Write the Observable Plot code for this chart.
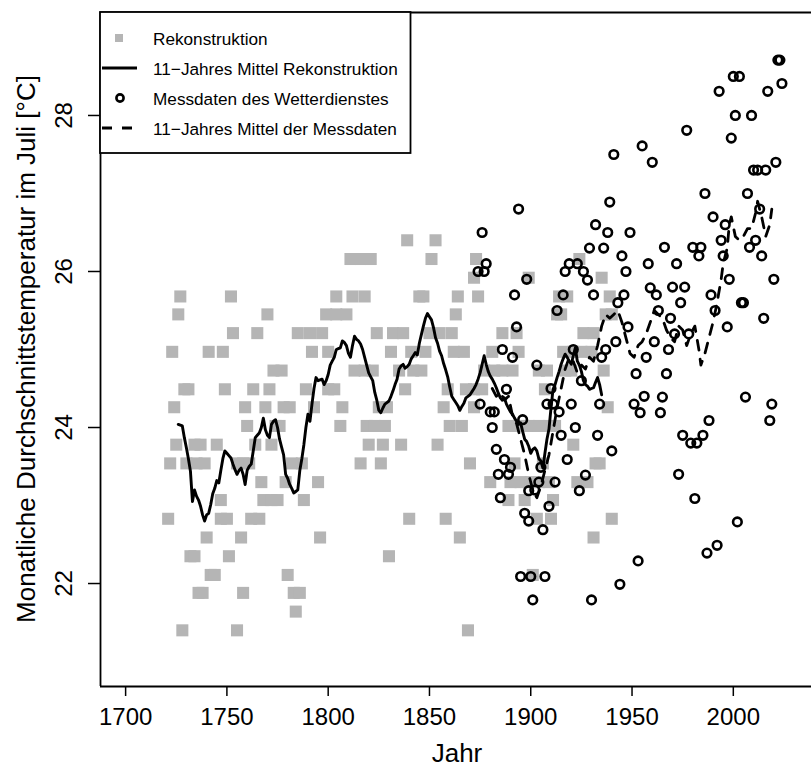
<!DOCTYPE html>
<html><head><meta charset="utf-8">
<script src="https://cdn.jsdelivr.net/npm/d3@7"></script>
<script src="https://cdn.jsdelivr.net/npm/@observablehq/plot@0.6"></script>
<style>
html,body{margin:0;padding:0;background:#fff;overflow:hidden;}
#chart{position:relative;width:811px;height:769px;}
</style></head><body><div id="chart"></div>
<script>
// ---- Rekonstruktion (grey squares): temperature levels and the years at each level
const rekoStufen = [26.40, 26.16, 25.92, 25.68, 25.45, 25.21, 24.97, 24.73, 24.49, 24.26, 24.02, 23.78, 23.54, 23.30, 23.07, 22.83, 22.59, 22.35, 22.11, 21.88, 21.64, 21.40];
const rekoJahre = [
 [1839, 1853],
 [1811, 1816, 1821, 1851, 1873, 1924],
 [1872, 1899, 1935],
 [1727, 1752, 1804, 1812, 1818, 1845, 1847, 1864, 1874, 1914, 1918, 1939],
 [1726, 1770, 1799, 1804, 1809, 1863, 1913, 1915, 1937, 1940],
 [1753, 1765, 1785, 1791, 1797, 1824, 1832, 1837, 1850, 1855, 1861, 1886, 1893, 1926, 1931],
 [1723, 1741, 1748, 1792, 1800, 1831, 1841, 1848, 1862, 1867, 1881, 1894, 1916, 1921, 1925, 1930],
 [1773, 1777, 1813, 1818, 1822, 1835, 1842, 1846, 1877, 1882, 1886, 1891, 1904, 1908, 1917, 1920, 1936],
 [1729, 1731, 1749, 1763, 1771, 1789, 1800, 1803, 1838, 1859, 1868, 1872, 1876, 1907],
 [1724, 1759, 1769, 1778, 1781, 1793, 1807, 1825, 1829, 1857, 1872, 1938],
 [1760, 1774, 1776, 1806, 1819, 1823, 1828, 1860, 1866, 1889, 1894, 1899, 1904, 1909, 1912],
 [1725, 1734, 1737, 1745, 1764, 1772, 1820, 1827, 1836, 1854, 1921],
 [1722, 1730, 1735, 1739, 1755, 1758, 1761, 1782, 1787, 1816, 1826, 1870, 1892, 1906, 1932, 1934],
 [1767, 1779, 1795, 1880, 1890, 1895, 1900, 1904, 1909, 1923, 1928],
 [1747, 1768, 1772, 1775, 1788, 1889, 1897, 1911],
 [1721, 1747, 1750, 1762, 1766, 1840, 1858, 1903, 1910, 1940],
 [1740, 1757, 1796, 1865, 1931],
 [1732, 1734, 1751, 1830],
 [1742, 1744, 1780, 1901],
 [1736, 1738, 1758, 1783, 1786],
 [1784],
 [1728, 1755, 1869]
];

// ---- 11-Jahres Mittel Rekonstruktion (solid line)
const rekoMittelJahr = [1726,1728,1729,1730,1731,1732,1733,1734,1735,1736,1737,1738,1739,1740,1741,1742,1743,1744,1745,1746,1747,1748,1749,1750,1751,1752,1753,1754,1755,1756,1757,1758,1759,1760,1761,1762,1763,1764,1765,1766,1767,1768,1769,1770,1771,1772,1773,1774,1775,1776,1777,1778,1779,1780,1781,1782,1783,1784,1785,1786,1787,1788,1789,1790,1791,1792,1793,1794,1795,1796,1797,1798,1799,1800,1801,1802,1803,1804,1805,1806,1807,1808,1809,1810,1811,1812,1813,1814,1815,1816,1817,1818,1819,1820,1821,1822,1823,1824,1825,1826,1827,1828,1829,1830,1831,1832,1833,1834,1835,1836,1837,1838,1839,1840,1841,1842,1843,1844,1845,1846,1847,1848,1849,1850,1851,1852,1853,1854,1855,1856,1857,1858,1859,1860,1861,1862,1863,1864,1865,1866,1867,1868,1869,1870,1871,1872,1873,1874,1875,1876,1877,1878,1879,1880,1881,1882,1883,1884,1885,1886,1887,1888,1889,1890,1891,1892,1893,1894,1895,1896,1897,1898,1899,1900,1901,1902,1903,1904,1905,1906,1907,1908,1909,1910,1911,1912,1913,1914,1915,1916,1917,1918,1919,1920,1921,1922,1923,1924,1925,1926,1927,1928,1929,1930,1931,1932,1933,1934,1935];
const rekoMittelTemp = [24.04,24.02,23.87,23.74,23.60,23.44,23.05,23.20,23.12,23.07,22.99,22.88,22.80,22.88,22.90,23.01,23.15,23.22,23.32,23.29,23.45,23.60,23.70,23.67,23.64,23.61,23.53,23.46,23.40,23.45,23.48,23.40,23.27,23.45,23.50,23.53,23.70,23.87,23.90,23.93,24.00,24.12,23.97,23.90,23.87,24.04,24.08,24.10,24.00,23.85,23.75,23.65,23.40,23.35,23.27,23.22,23.16,23.18,23.20,23.45,23.60,23.78,24.00,24.17,24.08,24.30,24.50,24.64,24.60,24.61,24.62,24.55,24.60,24.68,24.80,24.85,24.90,25.00,25.01,25.02,25.11,25.09,25.05,24.95,24.90,25.05,25.17,25.13,25.11,25.07,25.00,24.90,24.80,24.70,24.65,24.60,24.45,24.35,24.22,24.19,24.25,24.30,24.32,24.34,24.40,24.47,24.55,24.62,24.75,24.79,24.81,24.76,24.78,24.81,24.88,24.92,24.96,24.93,25.08,25.19,25.30,25.40,25.46,25.42,25.38,25.28,25.15,25.08,24.98,24.92,24.82,24.74,24.65,24.52,24.40,24.36,24.32,24.28,24.22,24.27,24.31,24.38,24.40,24.42,24.46,24.50,24.55,24.62,24.70,24.81,24.92,24.81,24.72,24.66,24.62,24.57,24.51,24.44,24.38,24.35,24.38,24.30,24.25,24.20,24.17,24.12,24.08,24.04,24.06,23.95,23.85,23.82,23.76,23.67,23.72,23.74,23.70,23.60,23.57,23.48,23.67,23.85,23.98,24.25,24.49,24.55,24.64,24.72,24.81,24.88,24.94,24.90,24.85,24.81,24.92,25.02,24.85,24.80,24.72,24.60,24.55,24.53,24.49,24.50,24.51,24.58,24.64,24.55,24.42];

// ---- Messdaten des Wetterdienstes (open circles)
const messJahr = [1874,1875,1876,1877,1878,1880,1881,1882,1883,1884,1885,1886,1887,1888,1889,1890,1891,1892,1893,1894,1895,1896,1897,1898,1899,1899,1900,1901,1902,1903,1904,1905,1906,1907,1908,1909,1910,1911,1912,1913,1914,1915,1916,1917,1918,1919,1920,1921,1922,1923,1924,1925,1926,1927,1928,1929,1930,1931,1932,1933,1934,1935,1936,1937,1938,1939,1940,1941,1942,1943,1944,1945,1946,1947,1948,1949,1951,1952,1953,1954,1955,1956,1957,1958,1959,1960,1961,1962,1963,1964,1965,1966,1967,1968,1969,1970,1971,1972,1973,1974,1975,1976,1977,1978,1979,1980,1981,1982,1983,1984,1985,1986,1987,1988,1989,1990,1991,1992,1993,1994,1995,1996,1997,1998,1999,2000,2001,2002,2003,2004,2005,2006,2007,2008,2009,2010,2011,2012,2013,2014,2015,2016,2017,2018,2019,2020,2021,2022,2023,2024];
const messTemp = [26.00,24.30,26.50,26.00,26.10,24.20,24.00,24.20,23.72,23.40,23.10,25.00,23.59,24.49,23.40,23.49,24.90,25.70,25.29,26.80,22.09,24.10,22.90,25.90,23.19,22.80,22.09,21.79,23.20,24.80,23.30,23.49,22.69,22.09,24.30,22.99,24.50,24.30,23.30,25.50,24.20,23.90,25.70,26.00,23.59,26.10,24.30,25.00,24.00,26.10,23.19,24.60,26.00,23.39,25.89,26.30,21.79,25.70,26.60,23.90,24.30,24.90,26.30,25.00,26.50,26.89,23.70,27.50,25.10,25.60,21.99,26.20,25.70,26.00,25.29,26.50,24.30,24.69,22.29,24.19,27.61,24.40,24.90,26.10,25.79,27.40,25.10,25.70,25.50,24.19,24.39,26.31,24.69,25.00,25.40,25.80,25.20,26.10,23.40,25.60,23.90,25.80,27.81,25.20,23.80,26.31,23.09,23.80,26.20,26.31,23.90,27.00,22.39,24.09,25.70,26.70,25.50,22.49,28.31,26.40,26.20,26.60,25.29,25.90,27.71,28.50,28.00,22.79,28.50,25.60,25.60,24.39,27.00,26.31,28.00,27.30,26.40,27.30,26.80,26.20,25.40,27.30,28.31,24.09,24.30,25.90,27.40,28.71,28.71,28.41];

// ---- 11-Jahres Mittel der Messdaten (dashed line)
const messMittelJahr = [1881,1883,1885,1887,1889,1891,1893,1895,1897,1899,1901,1903,1905,1907,1909,1911,1913,1915,1917,1919,1921,1923,1925,1927,1929,1931,1933,1935,1937,1939,1941,1943,1945,1947,1949,1951,1953,1955,1957,1959,1961,1963,1965,1967,1969,1971,1973,1975,1977,1979,1981,1983,1984,1986,1988,1990,1992,1994,1995,1997,1998,1999,2001,2003,2005,2007,2009,2011,2012,2014,2016,2018,2019];
const messMittelTemp = [24.50,24.40,24.45,24.35,24.40,24.15,24.05,23.85,23.65,23.40,23.20,23.10,23.25,23.45,23.65,23.95,24.25,24.50,24.75,24.90,24.85,24.70,24.80,24.75,24.90,24.85,25.05,25.30,25.45,25.40,25.45,25.50,25.35,25.15,24.95,24.90,25.05,25.10,25.20,25.35,25.50,25.45,25.40,25.25,25.15,25.10,25.30,25.25,25.05,25.20,25.30,25.00,24.80,24.95,25.15,25.35,25.60,25.90,26.10,26.30,26.60,26.70,26.45,26.40,26.45,26.55,26.55,26.75,26.90,26.70,26.45,26.60,26.80];

const xTicks = [1700, 1750, 1800, 1850, 1900, 1950, 2000];
const yTicks = [22, 24, 26, 28];
const xDomain = [1687.6, 2038.6];
const yDomain = [20.68, 29.32];
const legendLabels = ["Rekonstruktion", "11\u2212Jahres Mittel Rekonstruktion", "Messdaten des Wetterdienstes", "11\u2212Jahres Mittel der Messdaten"];
const xTitle = "Jahr";
const yTitle = "Monatliche Durchschnittstemperatur im Juli [°C]";

const reko = rekoStufen.flatMap((t, i) => rekoJahre[i].map(j => ({jahr: j, temp: t})));
const rekoMittel = rekoMittelJahr.map((j, i) => ({jahr: j, temp: rekoMittelTemp[i]}));
const mess = messJahr.map((j, i) => ({jahr: j, temp: messTemp[i]}));
const messMittel = messMittelJahr.map((j, i) => ({jahr: j, temp: messMittelTemp[i]}));

const font = "'Liberation Sans', Arial, Helvetica, sans-serif";
const grey = "#b5b5b5";

const plot = Plot.plot({
  width: 811, height: 769,
  marginLeft: 100, marginRight: 0, marginTop: 12, marginBottom: 83,
  style: {fontFamily: font, background: "white", color: "black", overflow: "visible"},
  x: {domain: xDomain, axis: null},
  y: {domain: yDomain, axis: null},
  marks: [
    Plot.dot(reko, {x: "jahr", y: "temp", symbol: "square", r: 6.8, fill: grey, stroke: "none"}),
    Plot.line(rekoMittel, {x: "jahr", y: "temp", stroke: "black", strokeWidth: 2.9}),
    Plot.dot(mess, {x: "jahr", y: "temp", r: 4.3, stroke: "black", strokeWidth: 2.6, fill: "none"}),
    Plot.line(messMittel, {x: "jahr", y: "temp", stroke: "black", strokeWidth: 2.8, strokeDasharray: "10,9"}),
    Plot.ruleX([xDomain[0]], {stroke: "black", strokeWidth: 1.8}),
    Plot.ruleY(yDomain, {stroke: "black", strokeWidth: 1.8}),
    Plot.axisX(xTicks, {anchor: "bottom", tickSize: 10, tickPadding: 11, fontSize: 24, label: null, strokeWidth: 1.5, tickFormat: d => String(d)}),
    Plot.axisY(yTicks, {anchor: "left", tickSize: 12, tickFormat: () => "", label: null, strokeWidth: 1.5}),
    Plot.text(yTicks, {y: d => d, frameAnchor: "left", text: d => String(d), rotate: -90, dx: -36.5, fontSize: 24, textAnchor: "middle", lineAnchor: "middle", fill: "black"})
  ]
});

const svg = d3.select(plot);
svg.append("text").attr("x", 457).attr("y", 762).attr("text-anchor", "middle")
  .attr("font-family", font).attr("font-size", 26).attr("fill", "black").text(xTitle);
svg.append("text").attr("transform", "translate(35,349) rotate(-90)").attr("text-anchor", "middle")
  .attr("font-family", font).attr("font-size", 26).attr("fill", "black").text(yTitle);

// legend
const lg = svg.append("g").attr("font-family", font).attr("font-size", 17.2).attr("text-anchor", "start");
lg.append("rect").attr("x", 100).attr("y", 12).attr("width", 310.5).attr("height", 141)
  .attr("fill", "white").attr("stroke", "black").attr("stroke-width", 1.8);
const rowsY = [38, 68, 98, 128];
lg.append("rect").attr("x", 115).attr("y", rowsY[0] - 4).attr("width", 8).attr("height", 8).attr("fill", grey);
lg.append("line").attr("x1", 102).attr("x2", 137).attr("y1", rowsY[1]).attr("y2", rowsY[1]).attr("stroke", "black").attr("stroke-width", 2.8);
lg.append("circle").attr("cx", 120).attr("cy", rowsY[2]).attr("r", 3.6).attr("fill", "none").attr("stroke", "black").attr("stroke-width", 2.6);
lg.append("line").attr("x1", 102).attr("x2", 137).attr("y1", rowsY[3]).attr("y2", rowsY[3]).attr("stroke", "black").attr("stroke-width", 2.8).attr("stroke-dasharray", "10,10");
legendLabels.forEach((t, i) => {
  lg.append("text").attr("x", 153).attr("y", rowsY[i] + 6.5).attr("text-anchor", "start").attr("fill", "black").text(t);
});

document.getElementById("chart").appendChild(plot);
</script>
</body></html>
